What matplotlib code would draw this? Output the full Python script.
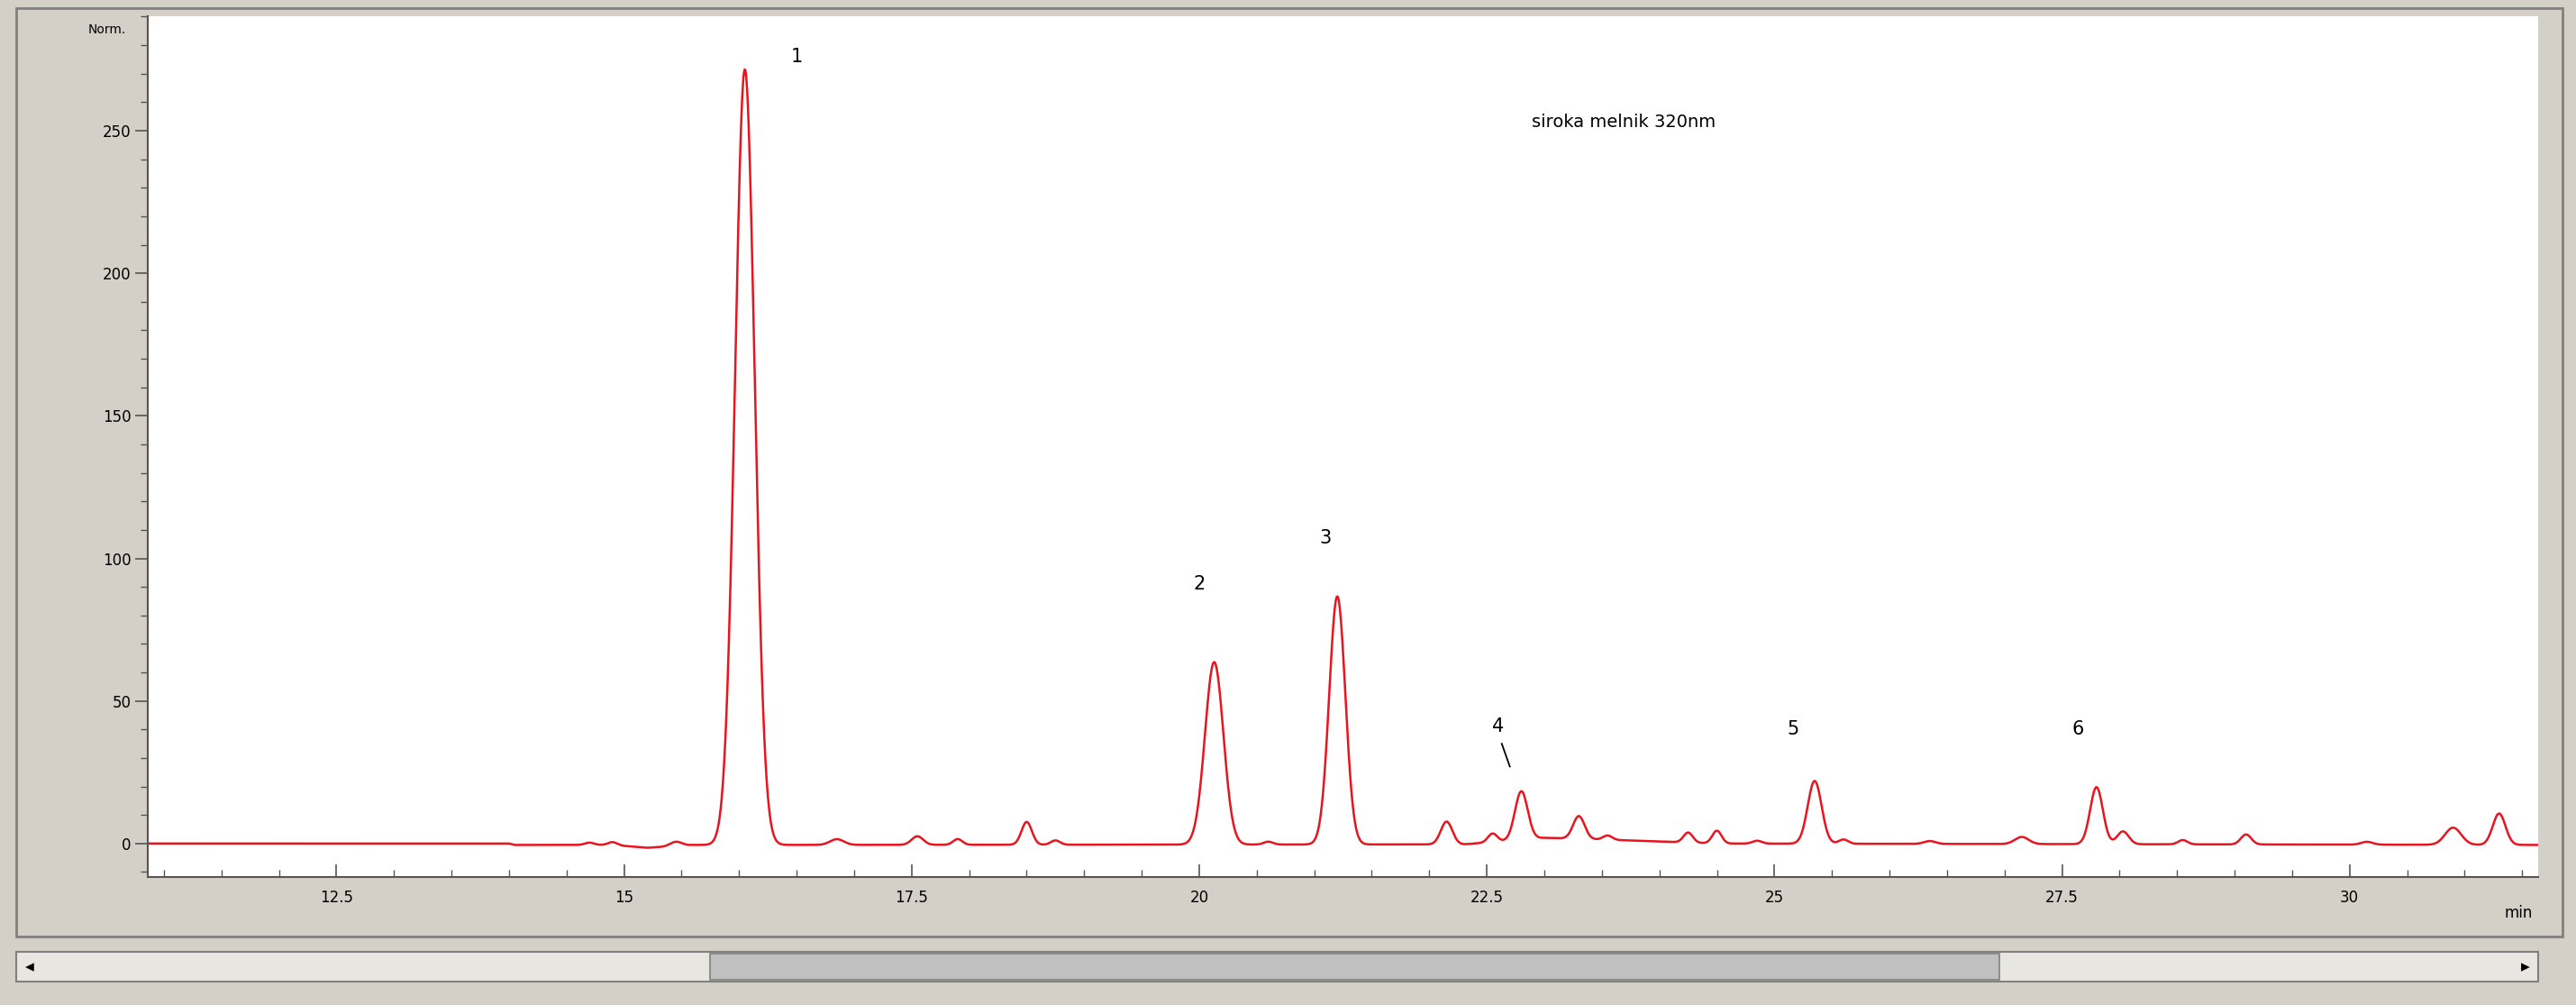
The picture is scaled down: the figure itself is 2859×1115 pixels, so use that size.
import numpy as np
import matplotlib
matplotlib.use("Agg")
import matplotlib.pyplot as plt
from matplotlib.patches import Rectangle
from matplotlib.ticker import MultipleLocator

# peak table: retention time (min), height, width (sigma, min)
peak_t = [14.7, 14.9, 15.45, 16.05, 16.85, 17.55, 17.9, 18.5, 18.75, 20.13, 20.6, 21.2,
          22.15, 22.55, 22.8, 23.3, 23.55, 24.25, 24.5, 24.85, 25.35, 25.6, 26.35, 27.15,
          27.8, 28.03, 28.55, 29.1, 30.15, 30.9, 31.3]
peak_h = [0.8, 1.0, 1.5, 272, 2.0, 3.0, 2.0, 8.0, 1.5, 64, 1.0, 87,
          8.0, 3.0, 17, 8.0, 1.5, 3.5, 4.5, 1.0, 22, 1.5, 1.0, 2.5,
          20, 4.5, 1.5, 3.5, 1.0, 6.0, 11]
peak_w = [0.04, 0.04, 0.05, 0.085, 0.06, 0.05, 0.04, 0.045, 0.04, 0.08, 0.04, 0.07,
          0.05, 0.04, 0.055, 0.05, 0.04, 0.04, 0.04, 0.04, 0.06, 0.04, 0.05, 0.06,
          0.055, 0.05, 0.04, 0.045, 0.05, 0.07, 0.055]
base_t = [10.86, 14.0, 14.05, 14.9, 15.2, 15.6, 16.2, 22.3, 23.0, 23.8, 24.5, 31.64]
base_v = [0.0, 0.0, -0.5, -0.5, -1.5, -0.5, -0.5, -0.3, 2.0, 1.0, 0.0, -0.5]

labels = ["1", "2", "3", "4", "5", "6"]
label_x = [16.5, 20.0, 21.1, 22.6, 25.16, 27.64]
label_y = [276, 91, 107, 41, 40, 40]

W, H = 2859, 1115
fig = plt.figure(figsize=(W/100, H/100), dpi=100)
fig.patch.set_facecolor("#d4d0c8")

def fx(px): return px/1568
def fy(py): return 1 - py/604

fig.patches.append(Rectangle((fx(10), fy(563)), fx(1550), fy(5)-fy(563), transform=fig.transFigure,
                             fill=False, edgecolor="#808080", lw=2))
fig.patches.append(Rectangle((fx(10), fy(590)), fx(1535), fy(572)-fy(590), transform=fig.transFigure,
                             facecolor="#e8e6e0", edgecolor="#808080", lw=1.5))
fig.patches.append(Rectangle((fx(432), fy(589)), fx(785), fy(573)-fy(589), transform=fig.transFigure,
                             facecolor="#c0c0c0", edgecolor="#808080", lw=1.2))
fig.text(fx(18), fy(581), "◂", fontsize=14, va="center", ha="center")
fig.text(fx(1537), fy(581), "▸", fontsize=14, va="center", ha="center")

ax = fig.add_axes([fx(90), fy(527), fx(1545)-fx(90), fy(10)-fy(527)])
ax.set_facecolor("white")

t = np.linspace(10.86, 31.64, 6000)
y = np.interp(t, base_t, base_v)
for pt, ph, pw in zip(peak_t, peak_h, peak_w):
    y = y + ph*np.exp(-0.5*((t-pt)/pw)**2)
ax.plot(t, y, color="#e8141e", lw=1.8)

ax.set_xlim(10.86, 31.64)
ax.set_ylim(-11.7, 290)
ax.xaxis.set_minor_locator(MultipleLocator(0.5))
ax.yaxis.set_major_locator(MultipleLocator(50))
ax.yaxis.set_minor_locator(MultipleLocator(10))
ax.set_xticks([12.5, 15, 17.5, 20, 22.5, 25, 27.5, 30])
ax.set_xticklabels(["12.5", "15", "17.5", "20", "22.5", "25", "27.5", "30"])
ax.tick_params(axis="both", which="major", labelsize=12, length=10, width=1.2, color="#555555")
ax.tick_params(axis="both", which="minor", length=6, width=1, color="#555555")
ax.tick_params(axis="x", direction="in", which="both", pad=10)
for s in ["top", "right"]:
    ax.spines[s].set_visible(False)
for s in ["left", "bottom"]:
    ax.spines[s].set_color("#555555")
    ax.spines[s].set_linewidth(1.5)

fig.text(fx(65), fy(18), "Norm.", fontsize=10, ha="center", va="center")
fig.text(fx(1533), fy(549), "min", fontsize=12, ha="center", va="center")

for lb, lx, ly in zip(labels, label_x, label_y):
    ax.text(lx, ly, lb, fontsize=15, ha="center", va="center")
ax.plot([22.63, 22.7], [35, 27], color="black", lw=1.3)
ax.text(22.89, 253, "siroka melnik 320nm", fontsize=14, ha="left", va="center")

fig.savefig("out.png", dpi=100, facecolor=fig.get_facecolor())
